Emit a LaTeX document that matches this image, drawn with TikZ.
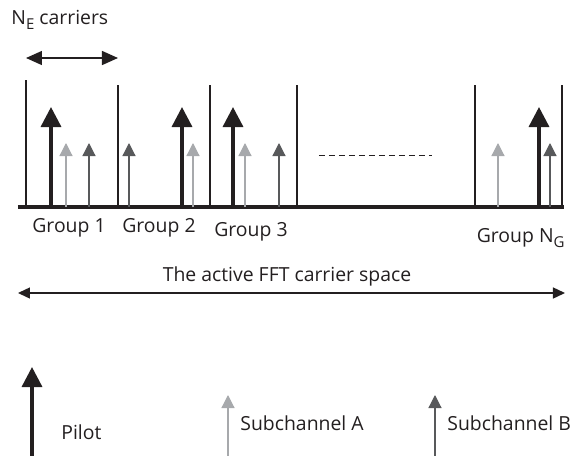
\documentclass[tikz,border=0pt]{standalone}
\usepackage{fontspec}
\setmainfont{Open Sans}
\usepackage{tikz}
\usepackage{xcolor}
\usetikzlibrary{arrows.meta}
\usetikzlibrary{positioning}

\definecolor{pilotcol}{HTML}{231F20}
\definecolor{subacol}{HTML}{A7A9AC}
\definecolor{subbcol}{HTML}{58595B}

\newcommand{\lowsub}[1]{\raisebox{-0.45ex}{\fontsize{7.5}{8}\selectfont #1}}

\tikzset{
  groundline/.style={draw=pilotcol, line width=2pt},
  divider/.style={draw=pilotcol, line width=1pt},
  pilotarrow/.style={draw=pilotcol, line width=1.7pt, -{Triangle[length=10pt,width=10pt]}},
  subaarrow/.style={draw=subacol, line width=0.6pt, -{Triangle[length=6.5pt,width=6.5pt]}},
  subbarrow/.style={draw=subbcol, line width=0.6pt, -{Triangle[length=6.5pt,width=6.5pt]}},
  spanarrow/.style={draw=pilotcol, line width=0.7pt, {Triangle[length=6pt,width=5.5pt]}-{Triangle[length=6pt,width=5.5pt]}},
  label/.style={font=\fontsize{9.7}{11}\selectfont, inner sep=0pt, text=pilotcol}
}

\begin{document}
\begin{tikzpicture}[x=0.5pt,y=-0.5pt]
\useasboundingbox (0,0) rectangle (570,456);
% Carrier axis
\coordinate (axisL) at (18,207);
\coordinate (axisR) at (564,207);
\draw[groundline] (axisL) -- (axisR);
% Group dividers
\draw[divider] (26,207) -- (26,80);
\foreach \x in {118,210,297,475,562}
  \draw[divider] (\x,207) -- (\x,85);
% Pilots
\foreach \x in {51,182,233,539}
  \draw[pilotarrow] (\x,207) -- (\x,107);
% Subchannel A
\foreach \x in {66,193,245,498}
  \draw[subaarrow] (\x,207) -- (\x,143);
% Subchannel B
\foreach \x in {89,129,279,550}
  \draw[subbarrow] (\x,207) -- (\x,143);
% Gap between groups
\draw[draw=pilotcol, line width=0.5pt, dash pattern=on 3pt off 2pt] (319,155) -- (432,155);

% Group width
\node[label, anchor=west] (ne) at (11,20) {N\lowsub{E} carriers};
\coordinate (neL) at (26,58);
\coordinate (neR) at (118,58);
\draw[spanarrow, {Triangle[length=8pt,width=7pt]}-{Triangle[length=8pt,width=7pt]}] (neL) -- (neR);

% Group names
\node[label] (g1) at (69,228) {Group 1};
\node[label] (g2) at (159,228) {Group 2};
\node[label] (g3) at (251,232) {Group 3};
\node[label, anchor=east] (gn) at (565,238) {Group N\lowsub{G}};

% Whole band
\coordinate (fftL) at (18,293);
\coordinate (fftR) at (565,293);
\draw[spanarrow] (fftL) -- (fftR);
\node[label] (fft) at (287,276) {The active FFT carrier space};

% Legend
\coordinate (pbot) at (32,456);
\coordinate (ptop) at (32,367);
\draw[pilotarrow] (pbot) -- (ptop);
\node[label, anchor=west] (pilot) at (61,432) {Pilot};
\coordinate (abot) at (228,456);
\coordinate (atop) at (228,395);
\draw[subaarrow] (abot) -- (atop);
\node[label, anchor=west] (suba) at (240,423) {Subchannel A};
\coordinate (bbot) at (435,456);
\coordinate (btop) at (435,395);
\draw[subbarrow] (bbot) -- (btop);
\node[label, anchor=west] (subb) at (447,423) {Subchannel B};
\end{tikzpicture}
\end{document}
